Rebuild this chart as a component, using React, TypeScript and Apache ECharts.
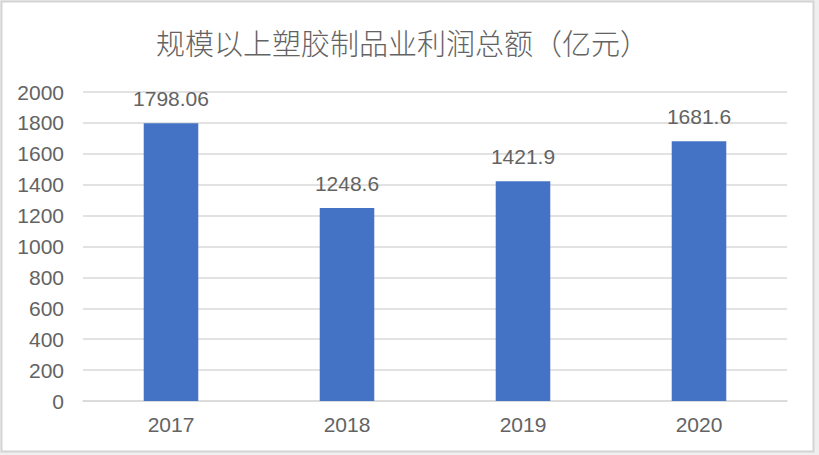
import React, { useEffect, useRef } from "react";
import * as echarts from "echarts";

const categories = ["2017", "2018", "2019", "2020"];
const profits = [1798.06, 1248.6, 1421.9, 1681.6];
const titleText = "规模以上塑胶制品业利润总额（亿元）";

export default function App() {
  const ref = useRef<HTMLDivElement>(null);
  useEffect(() => {
    const chart = echarts.init(ref.current!, null, { renderer: "svg" });
    const cjk = "'Noto Sans CJK SC', sans-serif";
    const num = "'Liberation Sans', 'Noto Sans', sans-serif";
    const textColor = "#636363";
    chart.setOption({
      animation: false,
      backgroundColor: "#efefef",
      textStyle: { fontFamily: num },
      graphic: [
        {
          type: "rect",
          z: -10,
          shape: { x: 1.5, y: 1.5, width: 812, height: 450 },
          style: { fill: "#ffffff", stroke: "#d4d4d4", lineWidth: 2 },
          silent: true,
        },
      ],
      title: {
        text: titleText,
        left: 151,
        top: 22,
        textStyle: { fontSize: 29, fontWeight: 300, color: textColor, fontFamily: cjk },
      },
      grid: { left: 83, right: 32, top: 92, bottom: 54 },
      xAxis: {
        type: "category",
        data: categories,
        axisLine: { show: true, lineStyle: { color: "#d9d9d9", width: 1.5 } },
        axisTick: { show: false },
        axisLabel: { color: textColor, fontSize: 21, margin: 13, fontFamily: num },
      },
      yAxis: {
        type: "value",
        min: 0,
        max: 2000,
        interval: 200,
        axisLine: { show: false },
        axisTick: { show: false },
        axisLabel: {
          color: textColor,
          fontSize: 21,
          margin: 19,
          fontFamily: num,
          formatter: (v: number) => String(v),
        },
        splitLine: { lineStyle: { color: "#d9d9d9", width: 1.5 } },
      },
      series: [
        {
          type: "bar",
          data: profits,
          barWidth: "31%",
          itemStyle: { color: "#4472C4" },
          label: {
            show: true,
            position: "top",
            distance: 14,
            color: textColor,
            fontSize: 21,
            fontFamily: num,
          },
        },
      ],
    });
    return () => chart.dispose();
  }, []);
  return (
    <div
      ref={ref}
      style={{ position: "absolute", left: 0, top: 0, width: 819, height: 455 }}
    />
  );
}
